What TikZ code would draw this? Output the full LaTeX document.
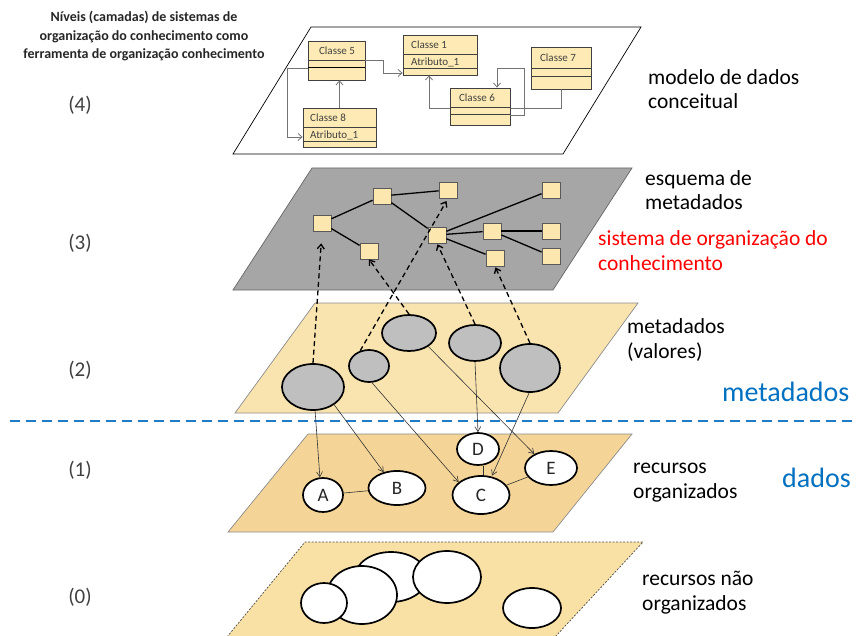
\documentclass[tikz,border=0pt]{standalone}
\usepackage{fontspec}
\setmainfont{Carlito}
\usetikzlibrary{shapes.geometric,arrows.meta}
\definecolor{tanA}{HTML}{F9E4AF}
\definecolor{tanB}{HTML}{F5D597}
\definecolor{tanC}{HTML}{F9E1A6}
\definecolor{planegray}{HTML}{A6A6A6}
\definecolor{sqfill}{HTML}{FCE8AE}
\definecolor{clsfill}{HTML}{FDEAB4}
\definecolor{ellgray}{HTML}{BFBFBF}
\definecolor{bluetxt}{HTML}{0070C0}
\definecolor{bluedash}{HTML}{1F7AC8}
\definecolor{redtxt}{HTML}{FF0000}
\definecolor{labgray}{HTML}{404040}
\begin{document}
\begin{tikzpicture}[x=1pt,y=-1pt,
  sq/.style={draw=black!65,fill=sqfill,line width=0.8pt,minimum width=18pt,minimum height=16pt,inner sep=0pt},
  treeedge/.style={line width=1.3pt,black},
  mell/.style={ellipse,draw=black,fill=ellgray,line width=1.7pt,inner sep=0pt},
  wel/.style={ellipse,draw=black,fill=white,line width=1.7pt,inner sep=0pt,font=\fontsize{19}{22}\selectfont,text=black!85},
  dasharr/.style={line width=1.3pt,dash pattern=on 5pt off 3.5pt,-{Straight Barb[length=4.5pt,width=7pt]}},
  thinarr/.style={line width=0.6pt,draw=black!80,-{Straight Barb[length=5pt,width=6pt]}},
  cls/.style={draw=black!75,fill=clsfill,line width=0.8pt,inner sep=0pt},
  clsline/.style={draw=black!75,line width=0.7pt},
  clstxt/.style={inner sep=0pt,font=\fontsize{11}{13}\selectfont,text=black!75},
  umlarr/.style={draw=black!55,line width=0.8pt,-{Straight Barb[length=4pt,width=7pt]}},
  rlab/.style={inner sep=0pt,anchor=base west,align=left,font=\fontsize{21.5}{24.5}\selectfont},
  llab/.style={inner sep=0pt,anchor=base,font=\fontsize{21}{24}\selectfont,text=labgray}
]
\useasboundingbox (0,0) rectangle (856,636);

% ---------- planes ----------
\draw[fill=white,draw=black,line width=0.7pt] (311,27) -- (641,27) -- (563,154) -- (233,154) -- cycle;
\draw[fill=planegray,draw=black!60,line width=0.7pt] (312,168) -- (632,168) -- (553,290) -- (233,290) -- cycle;
\draw[fill=tanA,draw=black!45,line width=0.7pt] (315,303) -- (638,303) -- (558,413) -- (235,413) -- cycle;
\draw[fill=tanB,draw=black!45,line width=0.7pt] (308,434) -- (632,434) -- (553,532) -- (228,532) -- cycle;
\fill[tanC] (305,542) -- (643,542) -- (555,637) -- (227,637) -- cycle;
\draw[draw=black!70,line width=0.7pt,dash pattern=on 2pt off 1.5pt] (227,637) -- (305,542) -- (643,542) -- (555,637);

% ---------- separator ----------
\coordinate (sepL) at (10,421);
\coordinate (sepR) at (856,421);
\draw[bluedash,line width=2.2pt,dash pattern=on 10pt off 6pt] (sepL) -- (sepR);

% ---------- layer 4: UML classes ----------
\node[cls,minimum width=57pt,minimum height=39pt] (c5) at (336.5,60.5) {};
\node[cls,minimum width=74pt,minimum height=40pt] (c1) at (440,55) {};
\node[cls,minimum width=73pt,minimum height=39pt] (c8) at (339.5,127.5) {};
\node[cls,minimum width=60pt,minimum height=42pt] (c7) at (561,68) {};
\draw[clsline] ([yshift=-20pt]c5.north west) -- ([yshift=-20pt]c5.north east);
\draw[clsline,line width=1.1pt,black] ([yshift=-27pt]c5.north west) -- ([yshift=-27pt]c5.north east);
\draw[clsline] ([yshift=-20pt]c1.north west) -- ([yshift=-20pt]c1.north east);
\draw[clsline] ([yshift=-34pt]c1.north west) -- ([yshift=-34pt]c1.north east);
\draw[clsline] ([yshift=-20pt]c8.north west) -- ([yshift=-20pt]c8.north east);
\draw[clsline] ([yshift=-34pt]c8.north west) -- ([yshift=-34pt]c8.north east);
\draw[clsline] ([yshift=-22pt]c7.north west) -- ([yshift=-22pt]c7.north east);
\draw[clsline] ([yshift=-30pt]c7.north west) -- ([yshift=-30pt]c7.north east);
\node[clstxt] (t5) at (337,51) {Classe 5};
\node[clstxt,anchor=west] (t1) at (411,45) {Classe 1};
\node[clstxt,anchor=west] (a1) at (411,62) {Atributo\_1};
\node[clstxt,anchor=west] (t8) at (310,118) {Classe 8};
\node[clstxt,anchor=west] (a8) at (310,135) {Atributo\_1};
\node[clstxt] (t7) at (558,58) {Classe 7};
% connectors
\draw[umlarr] ([yshift=-7.5pt]c5.west) -- ++(-20,0) |- ([yshift=-9.5pt]c8.west);
\draw[umlarr] (c8.north) -- (c8.north |- c5.south);
\draw[umlarr] (c5.east) -- ++(18,0) |- ([yshift=-18pt]c1.west);
\draw[umlarr] (c7.south) -- ++(0,19) -| ([xshift=-11pt]c1.south);
\node[cls,minimum width=60pt,minimum height=37pt] (c6) at (480,106.5) {};
\draw[clsline] ([yshift=-20pt]c6.north west) -- ([yshift=-20pt]c6.north east);
\draw[clsline] ([yshift=-27pt]c6.north west) -- ([yshift=-27pt]c6.north east);
\node[clstxt] (t6) at (477,98) {Classe 6};
\draw[umlarr] ([yshift=-8.5pt]c6.east) -- ++(14,0) |- ([xshift=17pt,yshift=19pt]c6.north) -- ([xshift=17pt]c6.north);

% ---------- layer 3: metadata schema ----------
\node[sq] (n1) at (322,223) {};
\node[sq] (n2) at (382,196) {};
\node[sq] (n3) at (448,190) {};
\node[sq] (n4) at (369,251) {};
\node[sq] (n5) at (437,235) {};
\node[sq] (n6) at (551,190) {};
\node[sq] (n7) at (492,231) {};
\node[sq] (n8) at (551,231) {};
\node[sq] (n9) at (495,258) {};
\node[sq] (n10) at (551,256) {};
\draw[treeedge] (n1) -- (n2);
\draw[treeedge] (n2) -- (n3);
\draw[treeedge] (n1) -- (n4);
\draw[treeedge] (n2) -- (n5);
\draw[treeedge] (n5) -- (n6);
\draw[treeedge] (n5) -- (n7);
\draw[treeedge] (n5) -- (n9);
\draw[treeedge] (n7) -- (n8);
\draw[treeedge] (n7) -- (n10);

% ---------- layer 2: metadata values ----------
\node[mell,minimum width=62pt,minimum height=46pt] (e1) at (313,387) {};
\node[mell,minimum width=40pt,minimum height=32pt] (e2) at (369,366) {};
\node[mell,minimum width=54pt,minimum height=36pt] (e3) at (409,333) {};
\node[mell,minimum width=52pt,minimum height=36pt] (e4) at (475,343) {};
\node[mell,minimum width=60pt,minimum height=48pt] (e5) at (530,368) {};
\draw[dasharr,shorten >=12pt] (e1.north) -- (n1.south);
\draw[dasharr,shorten >=3pt] (e2.120) -- (n3.south);
\draw[dasharr] (e3.north) -- (n4.south);
\draw[dasharr,shorten >=1pt] (e4.north) -- (n5.south);
\draw[dasharr,shorten >=1pt] (e5.north) -- (n9.south);

% ---------- layer 1: organised resources ----------
\node[wel,minimum width=40pt,minimum height=34pt] (A) at (323,495) {A};
\node[wel,minimum width=57pt,minimum height=34pt] (B) at (397,488) {B};
\node[wel,minimum width=57pt,minimum height=38pt] (C) at (481,495) {C};
\node[wel,minimum width=42pt,minimum height=32pt] (D) at (478,449) {D};
\node[wel,minimum width=52pt,minimum height=34pt] (E) at (551,468) {E};
\draw[line width=0.6pt,black!80] (A) -- (B);
\draw[line width=0.6pt,black!80] ([xshift=5pt]D.south) -- ([xshift=2pt]C.north);
\draw[line width=0.6pt,black!80] (C) -- (E);
\draw[thinarr] (e1.-85) -- (A.100);
\draw[thinarr] (e1.-40) -- (B.130);
\draw[thinarr] (e2.-80) -- (C.150);
\draw[thinarr] (e3.-35) -- (E.140);
\draw[thinarr] (e4.south) -- (D.north);
\draw[thinarr,shorten >=1pt] (e5.-92) -- (C.60);

% ---------- layer 0: unorganised resources ----------
\node[ellipse,draw=black,fill=white,line width=1.7pt,minimum width=72pt,minimum height=50pt] (u1) at (391,577) {};
\node[ellipse,draw=black,fill=white,line width=1.7pt,minimum width=68pt,minimum height=52pt] (u2) at (447,577) {};
\node[ellipse,draw=black,fill=white,line width=1.7pt,minimum width=70pt,minimum height=58pt] (u3) at (362,595) {};
\node[ellipse,draw=black,fill=white,line width=1.7pt,minimum width=46pt,minimum height=40pt] (u4) at (324,603) {};
\node[ellipse,draw=black,fill=white,line width=1.7pt,minimum width=58pt,minimum height=40pt] (u5) at (532,608) {};

% ---------- texts ----------
\node[inner sep=0pt,align=center,font=\bfseries\fontsize{14}{18.5}\selectfont,text=black!85,anchor=base] (title) at (144,59)
  {Níveis (camadas) de sistemas de\\organização do conhecimento como\\ferramenta de organização conhecimento};
\node[llab] (L4) at (80,112) {(4)};
\node[llab] (L3) at (80,250) {(3)};
\node[llab] (L2) at (80,376) {(2)};
\node[llab] (L1) at (80,476) {(1)};
\node[llab] (L0) at (80,603) {(0)};
\node[rlab] (r4) at (648,109) {modelo de dados\\conceitual};
\node[rlab] (r3) at (645,210) {esquema de\\metadados};
\node[rlab,text=redtxt] (r3b) at (598,270) {sistema de organização do\\conhecimento};
\node[rlab] (r2) at (627,358) {metadados\\(valores)};
\node[rlab,text=bluetxt,font=\fontsize{28}{32}\selectfont] (bm) at (722,401) {metadados};
\node[rlab] (r1) at (633,498) {recursos\\organizados};
\node[rlab,text=bluetxt,font=\fontsize{28}{32}\selectfont] (bd) at (782,487) {dados};
\node[rlab] (r0) at (642,610) {recursos não\\organizados};
\end{tikzpicture}
\end{document}
